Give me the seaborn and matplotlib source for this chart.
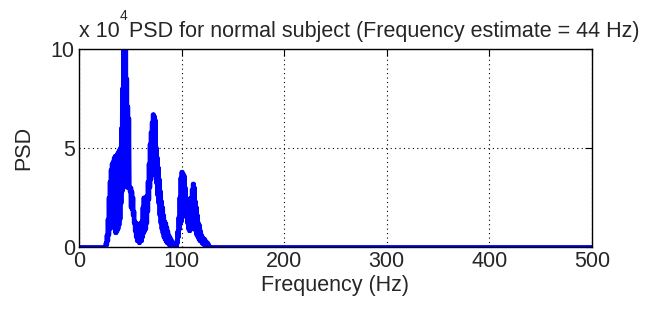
import numpy as np
import pandas as pd
import seaborn as sns
import matplotlib.pyplot as plt

# PSD readings (units of 1e4), one upper/lower pair per Hz between 24 and 128 Hz
freq_hz = list(range(24, 129))
psd_upper = [0, 0, 0.2, 0.6, 1.4, 2.5, 3.3, 3.9, 4.2, 4.3, 4.5, 4.6, 4.6, 4.7, 4.8, 4.9, 5.0,
             6.0, 8.0, 10.2, 10.4, 10.3, 10.1, 8.5, 7.1, 6.5, 3.0, 3.0, 2.8, 2.5, 1.8, 1.3,
             1.2, 1.2, 1.1, 1.1, 1.2, 1.3, 2.0, 2.5, 2.5, 2.5, 2.6, 3.3, 4.2, 5.2, 5.8, 6.3,
             6.7, 6.7, 6.6, 6.4, 5.0, 4.5, 4.0, 3.4, 2.8, 2.3, 2.0, 1.6, 1.3, 1.2, 1.0, 0.8,
             0.6, 0.5, 0.4, 0.3, 0.2, 0.15, 0.1, 0.3, 0.8, 1.5, 2.5, 3.5, 3.8, 3.8, 3.7, 3.6,
             3.0, 2.5, 2.4, 2.4, 2.4, 2.5, 2.9, 3.2, 3.2, 3.0, 2.3, 2.0, 1.6, 1.2, 1.1, 0.8,
             0.6, 0.5, 0.4, 0.4, 0.3, 0.25, 0.2, 0.1, 0]
psd_lower = [0, 0, 0, 0.1, 0.3, 0.6, 0.9, 1.2, 1.3, 1.1, 0.9, 0.7, 0.7, 0.8, 0.9, 1.1, 1.4,
             2.2, 2.8, 3.0, 3.4, 3.2, 3.0, 3.0, 3.0, 2.8, 2.0, 1.9, 1.6, 1.2, 0.8, 0.5,
             0.3, 0.3, 0.2, 0.2, 0.3, 0.3, 0.5, 0.7, 0.8, 0.9, 1.2, 1.8, 2.4, 3.0, 3.4, 3.6,
             3.8, 3.9, 3.7, 3.2, 2.6, 2.2, 1.6, 1.2, 0.9, 0.7, 0.5, 0.4, 0.3, 0.2, 0.2, 0.1,
             0.1, 0.05, 0.05, 0, 0, 0, 0, 0, 0.2, 0.5, 0.9, 1.2, 1.3, 1.5, 1.8, 1.9,
             1.6, 1.2, 0.9, 0.8, 0.8, 0.9, 1.0, 1.1, 1.0, 0.8, 0.6, 0.5, 0.4, 0.3, 0.3, 0.2,
             0.15, 0.1, 0.1, 0.05, 0.05, 0, 0, 0, 0]
x_ticks = [0, 100, 200, 300, 400, 500]
y_ticks = [0, 5, 10]

# interleave upper/lower readings so the trace zigzags like the raw spectrum
f = np.array(freq_hz, dtype=float)
x = np.concatenate([[0], np.column_stack([f, f + 0.5]).ravel(), [500]])
y = np.concatenate([[0], np.column_stack([psd_upper, psd_lower]).ravel(), [0]])
df = pd.DataFrame({"Frequency": x, "PSD": y})

sns.set_style("white")
plt.rcParams['font.family'] = ['Liberation Sans', 'DejaVu Sans']
fs = 15.5

fig = plt.figure(figsize=(6.47, 3.2), dpi=100)
ax = fig.add_axes([0.122, 0.228, 0.793, 0.619])
sns.lineplot(data=df, x="Frequency", y="PSD", sort=False, color="#0000ff",
             linewidth=2.8, ax=ax)

ax.set_xlim(0, 500)
ax.set_ylim(0, 10)
ax.set_xticks(x_ticks)
ax.set_yticks(y_ticks)
ax.grid(True, color="black", linestyle=(0, (1, 3)), linewidth=0.8)
ax.tick_params(direction="in", top=True, right=True, length=5, color="black",
               labelsize=fs, pad=3)
for s in ax.spines.values():
    s.set_color("black")
    s.set_linewidth(1.0)

ax.set_xlabel("Frequency (Hz)", fontsize=fs, labelpad=2)
ax.set_ylabel("PSD", fontsize=fs, labelpad=12)

# title and the exponent label that sits just left of it
fig.text(0.200, 0.884, "PSD for normal subject (Frequency estimate = 44 Hz)",
         fontsize=fs, ha="left", va="baseline")
fig.text(0.122, 0.884, "x 10", fontsize=fs, ha="left", va="baseline")
fig.text(0.185, 0.938, "4", fontsize=10, ha="left", va="baseline")

fig.savefig("out.png", dpi=100)
